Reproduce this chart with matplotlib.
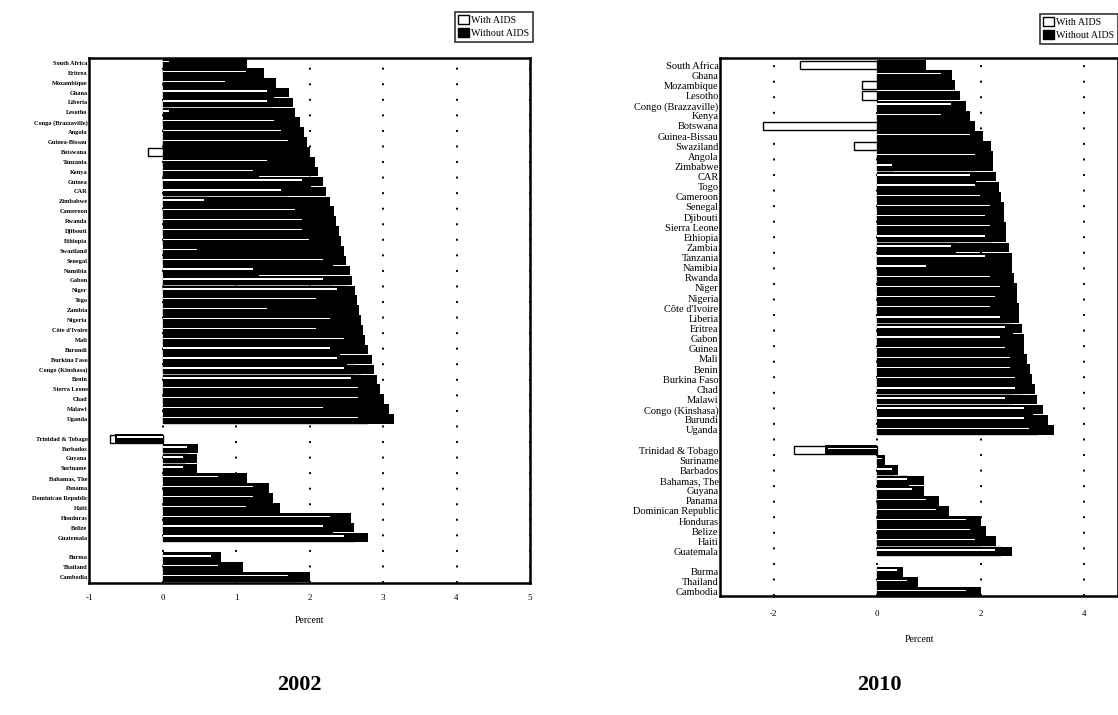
import numpy as np
import matplotlib.pyplot as plt
from matplotlib.patches import Patch

# ---- 2002 data (growth rates, percent) ----
africa_02 = ['South Africa', 'Eritrea', 'Mozambique', 'Ghana', 'Liberia', 'Lesotho',
             'Congo (Brazzaville)', 'Angola', 'Guinea-Bissau', 'Botswana', 'Tanzania',
             'Kenya', 'Guinea', 'CAR', 'Zimbabwe', 'Cameroon', 'Rwanda', 'Djibouti',
             'Ethiopia', 'Swaziland', 'Senegal', 'Namibia', 'Gabon', 'Niger', 'Togo',
             'Zambia', 'Nigeria', "Côte d'Ivoire", 'Mali', 'Burundi', 'Burkina Faso',
             'Congo (Kinshasa)', 'Benin', 'Sierra Leone', 'Chad', 'Malawi', 'Uganda']
carib_02 = ['Trinidad & Tobago', 'Barbados', 'Guyana', 'Suriname', 'Bahamas, The',
            'Panama', 'Dominican Republic', 'Haiti', 'Honduras', 'Belize', 'Guatemala']
asia_02 = ['Burma', 'Thailand', 'Cambodia']

without_02 = [1.15, 1.38, 1.55, 1.72, 1.77, 1.80, 1.87, 1.92, 1.96, 2.00, 2.08,
              2.12, 2.18, 2.22, 2.28, 2.33, 2.36, 2.40, 2.43, 2.47, 2.50, 2.55,
              2.58, 2.62, 2.64, 2.67, 2.70, 2.73, 2.76, 2.80, 2.85, 2.88, 2.92,
              2.96, 3.02, 3.08, 3.15,
              -0.65, 0.48, 0.47, 0.47, 1.15, 1.45, 1.50, 1.60, 2.57, 2.60, 2.80,
              0.80, 1.10, 2.00]
with_02 = [0.10, 1.20, 0.90, 1.50, 1.50, 0.10, 1.60, 1.70, 1.80, -0.20, 1.50,
           1.30, 2.00, 1.70, 0.60, 1.90, 2.00, 2.00, 2.10, 0.50, 2.30, 1.30,
           2.30, 2.50, 2.20, 1.50, 2.40, 2.20, 2.60, 2.40, 2.50, 2.60, 2.70,
           2.80, 2.80, 2.30, 2.80,
           -0.72, 0.35, 0.30, 0.30, 0.80, 1.30, 1.30, 1.20, 2.40, 2.30, 2.60,
           0.70, 0.80, 1.80]

# ---- 2010 data ----
africa_10 = ['South Africa', 'Ghana', 'Mozambique', 'Lesotho', 'Congo (Brazzaville)',
             'Kenya', 'Botswana', 'Guinea-Bissau', 'Swaziland', 'Angola', 'Zimbabwe',
             'CAR', 'Togo', 'Cameroon', 'Senegal', 'Djibouti', 'Sierra Leone',
             'Ethiopia', 'Zambia', 'Tanzania', 'Namibia', 'Rwanda', 'Niger', 'Nigeria',
             "Côte d'Ivoire", 'Liberia', 'Eritrea', 'Gabon', 'Guinea', 'Mali', 'Benin',
             'Burkina Faso', 'Chad', 'Malawi', 'Congo (Kinshasa)', 'Burundi', 'Uganda']
carib_10 = ['Trinidad & Tobago', 'Suriname', 'Barbados', 'Bahamas, The', 'Guyana',
            'Panama', 'Dominican Republic', 'Honduras', 'Belize', 'Haiti', 'Guatemala']
asia_10 = ['Burma', 'Thailand', 'Cambodia']

without_10 = [0.95, 1.45, 1.50, 1.60, 1.72, 1.80, 1.90, 2.05, 2.20, 2.25, 2.25,
              2.30, 2.35, 2.40, 2.45, 2.45, 2.50, 2.50, 2.55, 2.60, 2.60, 2.65,
              2.70, 2.70, 2.75, 2.75, 2.80, 2.85, 2.85, 2.90, 2.95, 3.00, 3.05,
              3.10, 3.20, 3.30, 3.42,
              -1.00, 0.15, 0.40, 0.90, 0.90, 1.20, 1.40, 2.00, 2.10, 2.30, 2.60,
              0.50, 0.80, 2.00]
with_10 = [-1.50, 1.30, -0.30, -0.30, 1.50, 1.30, -2.20, 1.90, -0.45, 2.00, 0.30,
           1.90, 2.00, 2.10, 2.30, 2.20, 2.30, 2.20, 1.50, 2.20, 1.00, 2.30,
           2.50, 2.40, 2.30, 2.50, 2.60, 2.50, 2.60, 2.70, 2.70, 2.80, 2.80,
           2.60, 3.00, 3.00, 3.10,
           -1.60, 0.10, 0.30, 0.60, 0.70, 1.00, 1.20, 1.80, 1.90, 2.00, 2.40,
           0.40, 0.60, 1.80]

plt.rcParams['font.family'] = ['Liberation Serif', 'DejaVu Serif']

fig = plt.figure(figsize=(11.18, 7.15), dpi=100)


def draw_panel(rect, groups, with_v, without_v, xlim, ticks, label_size,
               label_weight, ylim_pad, leg_anchor, xlabel_pad, tick_pad):
    ax = fig.add_axes(rect)
    names, ypos = [], []
    pos = 0
    for g in groups:
        for name in g:
            names.append(name)
            ypos.append(pos)
            pos += 1
        pos += 1  # blank row between regions
    ypos = np.array(ypos)
    with_v = np.array(with_v)
    without_v = np.array(without_v)

    ax.barh(ypos, with_v, height=0.8, color='white', edgecolor='black',
            linewidth=1.0, zorder=2)
    ax.barh(ypos, without_v, height=0.97, color='black', linewidth=0, zorder=3)
    # thin white streak left by the scanned "with AIDS" bar inside the black one
    streak = np.where(without_v >= 0, np.clip(with_v, 0, without_v),
                      np.clip(with_v, without_v, 0))
    ax.barh(ypos - 0.15, streak * 0.95, height=0.14, color='white', linewidth=0,
            zorder=4)

    ax.set_xlim(*xlim)
    ax.set_ylim(ypos[-1] + ylim_pad[1], ypos[0] - ylim_pad[0])
    ax.set_yticks(ypos)
    ax.set_yticklabels(names, fontsize=label_size, fontweight=label_weight)
    ax.set_xticks(ticks)
    ax.set_xticklabels([str(t) for t in ticks], fontsize=6.5)
    ax.tick_params(length=0, axis='x', pad=tick_pad)
    ax.tick_params(length=0, axis='y', pad=1)
    ax.set_xlabel('Percent', fontsize=7, labelpad=xlabel_pad)
    ax.xaxis.grid(True, color='black', linestyle=(0, (1, 7)), linewidth=1.4)
    ax.set_axisbelow(True)
    for s in ax.spines.values():
        s.set_linewidth(1.8)

    handles = [Patch(facecolor='white', edgecolor='black', label='With AIDS'),
               Patch(facecolor='black', edgecolor='black', label='Without AIDS')]
    leg = ax.legend(handles=handles, loc='upper right', bbox_to_anchor=leg_anchor,
                    borderaxespad=0, fontsize=7.2, fancybox=False, frameon=True,
                    handlelength=1.1, handleheight=1.0, handletextpad=0.2,
                    borderpad=0.35, labelspacing=0.3)
    leg.get_frame().set_edgecolor('black')
    leg.get_frame().set_linewidth(1.2)
    return ax


draw_panel([89 / 1118, 1 - 583 / 715, 441 / 1118, 525 / 715],
           [africa_02, carib_02, asia_02], with_02, without_02,
           (-1, 5), [-1, 0, 1, 2, 3, 4, 5], 4.6, 'bold', (0.5, 0.6),
           (1.007, 1.088), 10, 8)

draw_panel([720 / 1118, 1 - 596 / 715, 398 / 1118, 538 / 715],
           [africa_10, carib_10, asia_10], with_10, without_10,
           (-3.04, 4.66), [-2, 0, 2, 4], 7.5, 'normal', (0.7, 0.4),
           (1.0, 1.082), 12, 10)

fig.text(299 / 1118, 1 - 685 / 715, '2002', ha='center', va='center',
         fontsize=16, fontweight='bold')
fig.text(879 / 1118, 1 - 685 / 715, '2010', ha='center', va='center',
         fontsize=16, fontweight='bold')

fig.savefig('out.png', dpi=100)
